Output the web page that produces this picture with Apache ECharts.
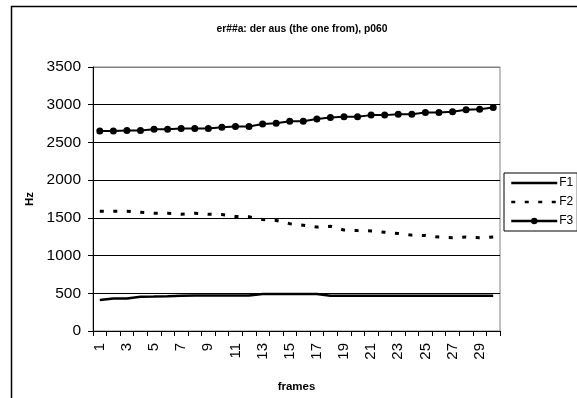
<!DOCTYPE html>
<html>
<head>
<meta charset="utf-8">
<script src="https://cdn.jsdelivr.net/npm/echarts@6/dist/echarts.min.js"></script>
<style>
html,body{margin:0;padding:0;background:#fff;}
#c{width:577px;height:398px;}
</style>
</head>
<body>
<div id="c"></div>
<script>
var categories = [];
for (var i = 1; i <= 30; i++) categories.push(String(i));
var f1 = [410,430,432,455,458,462,468,470,470,470,470,470,490,492,492,492,492,468,468,468,468,468,468,468,468,468,468,468,468,468];
var f2 = [1587,1587,1587,1574,1561,1561,1548,1561,1548,1544,1518,1514,1479,1466,1423,1401,1379,1388,1340,1331,1327,1310,1292,1271,1266,1245,1236,1245,1236,1245];
var f3 = [2650,2650,2658,2658,2676,2676,2684,2684,2684,2702,2711,2711,2745,2754,2780,2780,2810,2832,2841,2841,2862,2862,2875,2875,2897,2897,2906,2932,2940,2962];
var yTicks = { min: 0, max: 3500, interval: 500 };

var FONT = 'Liberation Sans, Arial, sans-serif';
var chart = echarts.init(document.getElementById('c'), null, {renderer: 'canvas'});
chart.setOption({
  animation: false,
  backgroundColor: '#fff',
  textStyle: { fontFamily: FONT, color: '#000' },
  graphic: [{
    type: 'rect', silent: true, z: -1,
    shape: { x: 11.5, y: 6.5, width: 620, height: 430 },
    style: { fill: 'none', stroke: '#000', lineWidth: 1.5 }
  }],
  title: {
    text: 'er##a: der aus (the one from), p060',
    left: 297, top: 19, textAlign: 'center',
    textStyle: { fontFamily: FONT, fontSize: 10.3, fontWeight: 'bold', color: '#000' }
  },
  legend: {
    orient: 'vertical',
    left: 504, top: 173,
    padding: [4, 4, 4, 6],
    borderColor: '#000', borderWidth: 1,
    itemWidth: 46, itemHeight: 8, itemGap: 7,
    lineStyle: { width: 2.5 },
    textStyle: { fontFamily: FONT, fontSize: 12, color: '#000', padding: [0, 0, 0, -3] },
    data: [
      { name: 'F1', itemStyle: { opacity: 0 } },
      { name: 'F2', itemStyle: { opacity: 0 } },
      { name: 'F3' }
    ]
  },
  grid: {
    left: 93, top: 67, right: 77, bottom: 62,
    show: true, borderColor: '#808080', borderWidth: 1,
    containLabel: false
  },
  xAxis: {
    type: 'category',
    data: categories,
    boundaryGap: true,
    name: 'frames',
    nameLocation: 'middle',
    nameGap: 50,
    nameTextStyle: { fontFamily: FONT, fontSize: 11.5, fontWeight: 'bold', color: '#000' },
    axisLine: { lineStyle: { color: '#000', width: 1 } },
    axisTick: { show: true, inside: false, length: 5, interval: 0, alignWithLabel: false, lineStyle: { color: '#000' } },
    axisLabel: { interval: 1, rotate: 90, margin: 12, fontSize: 15, fontFamily: FONT, color: '#000' },
    splitLine: { show: false }
  },
  yAxis: {
    type: 'value',
    min: yTicks.min, max: yTicks.max, interval: yTicks.interval,
    name: 'Hz',
    nameLocation: 'middle',
    nameGap: 52,
    nameRotate: 90,
    nameTextStyle: { fontFamily: FONT, fontSize: 11.5, fontWeight: 'bold', color: '#000' },
    axisLine: { show: true, lineStyle: { color: '#000', width: 1 } },
    axisTick: { show: true, inside: false, length: 5, lineStyle: { color: '#000' } },
    axisLabel: { margin: 12, fontSize: 15.5, fontFamily: FONT, color: '#000', formatter: function (v) { return String(v); } },
    splitLine: { show: true, lineStyle: { color: ['#000','#000','#000','#000','#000','#000','#000','#808080'], width: 1 } }
  },
  series: [
    {
      name: 'F1', type: 'line', data: f1,
      symbol: 'none', showSymbol: false,
      lineStyle: { color: '#000', width: 2.5 },
      itemStyle: { color: '#000' }
    },
    {
      name: 'F2', type: 'line', data: f2,
      symbol: 'none', showSymbol: false,
      lineStyle: { color: '#000', width: 3, type: [4, 9.5] },
      itemStyle: { color: '#000' }
    },
    {
      name: 'F3', type: 'line', data: f3,
      symbol: 'circle', symbolSize: 7, showSymbol: true,
      lineStyle: { color: '#000', width: 2 },
      itemStyle: { color: '#000' }
    }
  ]
});
</script>
</body>
</html>
